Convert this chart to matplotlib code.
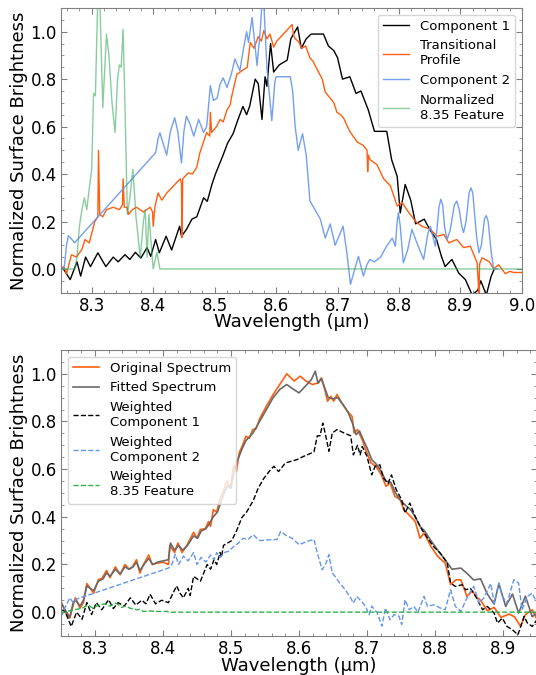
import matplotlib
matplotlib.use("Agg")
import matplotlib.pyplot as plt

# ---- top panel: components (wavelength um, normalized brightness) ----
comp1 = [(8.250, 0.01), (8.254, 0.0), (8.265, -0.045), (8.276, 0.03), (8.282, -0.03), (8.290, 0.05),
         (8.298, 0.01), (8.310, 0.068), (8.323, 0.01), (8.335, 0.05), (8.343, 0.03), (8.354, 0.06),
         (8.362, 0.04), (8.371, 0.07), (8.380, 0.046), (8.390, 0.09), (8.396, 0.053), (8.404, 0.124),
         (8.410, 0.068), (8.421, 0.138), (8.430, 0.08), (8.443, 0.18), (8.446, 0.138), (8.454, 0.166),
         (8.463, 0.21), (8.471, 0.22), (8.482, 0.30), (8.488, 0.285), (8.496, 0.36), (8.502, 0.405),
         (8.513, 0.475), (8.521, 0.53), (8.530, 0.57), (8.538, 0.63), (8.546, 0.685), (8.552, 0.65),
         (8.557, 0.686), (8.566, 0.80), (8.571, 0.78), (8.577, 0.63), (8.582, 0.81), (8.585, 0.77),
         (8.591, 0.95), (8.596, 0.83), (8.605, 0.86), (8.618, 0.88), (8.624, 0.97), (8.635, 1.02),
         (8.641, 0.93), (8.649, 0.97), (8.657, 0.99), (8.677, 0.99), (8.685, 0.94), (8.694, 0.92),
         (8.700, 0.89), (8.708, 0.80), (8.720, 0.81), (8.730, 0.74), (8.738, 0.75), (8.750, 0.67),
         (8.760, 0.58), (8.780, 0.58), (8.788, 0.46), (8.797, 0.39), (8.802, 0.236), (8.810, 0.356),
         (8.819, 0.29), (8.827, 0.19), (8.841, 0.21), (8.850, 0.166), (8.861, 0.124), (8.869, 0.053),
         (8.875, 0.01), (8.886, 0.04), (8.897, -0.017), (8.908, -0.045), (8.919, -0.11), (8.928, -0.09),
         (8.933, -0.05), (8.942, -0.11), (8.950, -0.03), (8.955, 0.0)]

transitional = [(8.250, 0.0), (8.255, 0.01), (8.259, -0.02), (8.267, 0.06), (8.275, 0.05), (8.284, 0.082),
                (8.289, 0.124), (8.296, 0.11), (8.305, 0.20), (8.310, 0.22), (8.311, 0.50), (8.313, 0.23),
                (8.318, 0.22), (8.324, 0.25), (8.335, 0.26), (8.345, 0.25), (8.350, 0.27), (8.351, 0.38),
                (8.353, 0.26), (8.357, 0.26), (8.360, 0.23), (8.366, 0.25), (8.373, 0.26), (8.384, 0.24),
                (8.395, 0.26), (8.399, 0.24), (8.400, 0.18), (8.403, 0.265), (8.408, 0.32), (8.414, 0.29),
                (8.422, 0.32), (8.433, 0.35), (8.444, 0.38), (8.446, 0.36), (8.447, 0.132), (8.448, 0.38),
                (8.457, 0.405), (8.464, 0.40), (8.471, 0.43), (8.476, 0.49), (8.487, 0.575), (8.492, 0.56),
                (8.493, 0.66), (8.495, 0.575), (8.503, 0.60), (8.509, 0.63), (8.514, 0.62), (8.520, 0.67),
                (8.525, 0.69), (8.528, 0.73), (8.536, 0.82), (8.547, 0.84), (8.553, 0.85), (8.558, 0.955),
                (8.564, 0.93), (8.571, 0.98), (8.576, 0.96), (8.580, 1.005), (8.585, 0.97), (8.590, 0.99),
                (8.596, 0.935), (8.601, 0.96), (8.626, 1.03), (8.628, 0.99), (8.631, 0.97), (8.636, 0.96),
                (8.642, 0.93), (8.648, 0.94), (8.655, 0.89), (8.660, 0.875), (8.669, 0.83), (8.675, 0.80),
                (8.680, 0.745), (8.688, 0.72), (8.694, 0.70), (8.699, 0.66), (8.705, 0.65), (8.710, 0.635),
                (8.716, 0.60), (8.721, 0.575), (8.732, 0.535), (8.742, 0.52), (8.748, 0.50), (8.749, 0.41),
                (8.750, 0.48), (8.753, 0.46), (8.764, 0.44), (8.775, 0.38), (8.786, 0.35), (8.797, 0.265),
                (8.805, 0.28), (8.816, 0.237), (8.827, 0.20), (8.837, 0.18), (8.851, 0.167), (8.862, 0.138),
                (8.873, 0.145), (8.881, 0.11), (8.894, 0.124), (8.905, 0.09), (8.916, 0.096), (8.927, 0.026),
                (8.929, -0.06), (8.930, -0.12), (8.931, 0.02), (8.935, 0.047), (8.940, 0.04), (8.947, 0.03),
                (8.954, 0.0), (8.962, 0.018), (8.967, 0.0), (8.973, -0.02), (8.980, -0.01), (8.987, -0.015),
                (9.000, -0.015)]

comp2 = [(8.250, 0.0), (8.255, 0.0), (8.259, 0.10), (8.262, 0.14), (8.266, 0.13), (8.272, 0.11),
         (8.404, 0.49), (8.408, 0.55), (8.411, 0.574), (8.416, 0.53), (8.422, 0.48), (8.428, 0.58),
         (8.435, 0.637), (8.440, 0.58), (8.446, 0.447), (8.450, 0.58), (8.454, 0.644), (8.460, 0.61),
         (8.466, 0.56), (8.474, 0.63), (8.482, 0.575), (8.487, 0.60), (8.493, 0.772), (8.498, 0.71),
         (8.504, 0.72), (8.509, 0.78), (8.514, 0.805), (8.520, 0.765), (8.527, 0.82), (8.533, 0.885),
         (8.541, 0.835), (8.547, 0.93), (8.552, 1.0), (8.555, 0.955), (8.561, 1.06), (8.569, 0.857),
         (8.574, 1.0), (8.577, 1.12), (8.580, 1.12), (8.585, 0.85), (8.593, 0.625), (8.598, 0.79),
         (8.600, 0.81), (8.623, 0.81), (8.627, 0.75), (8.631, 0.60), (8.636, 0.50), (8.643, 0.57),
         (8.649, 0.48), (8.655, 0.287), (8.672, 0.21), (8.680, 0.13), (8.688, 0.19), (8.696, 0.10),
         (8.709, 0.18), (8.715, 0.07), (8.721, -0.065), (8.728, 0.0), (8.734, 0.053), (8.742, -0.03),
         (8.748, 0.02), (8.753, 0.04), (8.760, 0.03), (8.770, 0.05), (8.780, 0.097), (8.789, 0.13),
         (8.794, 0.096), (8.797, 0.20), (8.799, 0.237), (8.802, 0.18), (8.807, 0.026), (8.814, 0.08),
         (8.821, 0.167), (8.829, 0.11), (8.840, 0.04), (8.847, 0.15), (8.851, 0.18), (8.859, 0.096),
         (8.865, 0.26), (8.868, 0.294), (8.871, 0.27), (8.874, 0.18), (8.878, 0.124), (8.883, 0.16),
         (8.890, 0.27), (8.894, 0.286), (8.898, 0.25), (8.902, 0.18), (8.905, 0.153), (8.909, 0.20),
         (8.914, 0.32), (8.917, 0.342), (8.920, 0.32), (8.926, 0.14), (8.930, 0.068), (8.934, 0.10),
         (8.939, 0.21), (8.942, 0.225), (8.945, 0.20), (8.950, 0.07), (8.954, 0.0), (8.960, 0.0)]

feature = [(8.250, 0.0), (8.273, 0.0), (8.276, 0.05), (8.280, 0.18), (8.284, 0.25), (8.288, 0.30),
           (8.292, 0.25), (8.296, 0.34), (8.300, 0.42), (8.303, 0.74), (8.306, 0.73), (8.308, 0.95),
           (8.310, 1.15), (8.313, 1.15), (8.318, 0.68), (8.324, 0.99), (8.328, 0.90), (8.333, 0.70),
           (8.338, 0.575), (8.342, 0.80), (8.345, 0.86), (8.348, 0.85), (8.351, 1.01), (8.354, 0.70),
           (8.358, 0.23), (8.362, 0.30), (8.367, 0.42), (8.372, 0.22), (8.379, 0.047), (8.384, 0.20),
           (8.387, 0.25), (8.390, 0.05), (8.393, 0.23), (8.400, 0.0), (8.406, 0.07), (8.411, 0.0),
           (9.000, 0.0)]

# ---- bottom panel: fit ----
original = [(8.250, 0.045), (8.258, -0.01), (8.263, -0.025), (8.268, 0.03), (8.271, 0.06), (8.278, 0.017),
            (8.283, 0.04), (8.288, 0.12), (8.293, 0.10), (8.298, 0.08), (8.305, 0.137), (8.310, 0.14),
            (8.317, 0.175), (8.322, 0.145), (8.330, 0.19), (8.337, 0.157), (8.344, 0.20), (8.350, 0.18),
            (8.355, 0.19), (8.361, 0.22), (8.366, 0.164), (8.371, 0.198), (8.379, 0.24), (8.384, 0.20),
            (8.391, 0.205), (8.400, 0.21), (8.408, 0.20), (8.410, 0.28), (8.417, 0.25), (8.422, 0.29),
            (8.428, 0.25), (8.435, 0.28), (8.445, 0.335), (8.450, 0.31), (8.455, 0.347), (8.462, 0.35),
            (8.467, 0.38), (8.470, 0.36), (8.474, 0.43), (8.479, 0.42), (8.484, 0.478), (8.489, 0.51),
            (8.494, 0.55), (8.499, 0.52), (8.504, 0.615), (8.508, 0.59), (8.512, 0.668), (8.517, 0.70),
            (8.522, 0.738), (8.527, 0.73), (8.532, 0.766), (8.537, 0.77), (8.542, 0.81), (8.552, 0.864),
            (8.562, 0.913), (8.570, 0.948), (8.582, 1.0), (8.593, 0.97), (8.602, 0.99), (8.610, 0.97),
            (8.620, 0.955), (8.628, 0.962), (8.633, 0.983), (8.638, 0.934), (8.642, 0.885), (8.647, 0.906),
            (8.651, 0.885), (8.656, 0.913), (8.663, 0.878), (8.671, 0.843), (8.678, 0.822), (8.681, 0.752),
            (8.686, 0.766), (8.693, 0.724), (8.698, 0.682), (8.706, 0.626), (8.713, 0.612), (8.721, 0.577),
            (8.728, 0.528), (8.734, 0.542), (8.741, 0.486), (8.749, 0.472), (8.754, 0.43), (8.764, 0.402),
            (8.771, 0.38), (8.778, 0.31), (8.784, 0.332), (8.794, 0.276), (8.804, 0.234), (8.815, 0.206),
            (8.823, 0.116), (8.831, 0.136), (8.838, 0.136), (8.847, 0.066), (8.855, 0.09), (8.860, 0.066),
            (8.867, 0.05), (8.877, 0.006), (8.887, 0.02), (8.897, -0.022), (8.909, -0.008), (8.917, -0.02),
            (8.926, -0.06), (8.933, -0.01), (8.943, 0.01), (8.950, -0.03)]

fitted = [(8.250, 0.04), (8.258, 0.0), (8.263, -0.02), (8.268, 0.04), (8.272, 0.05), (8.278, 0.025),
          (8.283, 0.05), (8.288, 0.11), (8.293, 0.10), (8.298, 0.09), (8.305, 0.13), (8.312, 0.14),
          (8.317, 0.165), (8.322, 0.15), (8.330, 0.18), (8.337, 0.16), (8.344, 0.19), (8.350, 0.18),
          (8.356, 0.19), (8.361, 0.21), (8.366, 0.175), (8.372, 0.20), (8.379, 0.225), (8.385, 0.20),
          (8.392, 0.21), (8.400, 0.215), (8.408, 0.22), (8.411, 0.29), (8.417, 0.26), (8.423, 0.28),
          (8.429, 0.26), (8.436, 0.28), (8.445, 0.32), (8.451, 0.31), (8.456, 0.34), (8.463, 0.35),
          (8.468, 0.37), (8.474, 0.40), (8.480, 0.42), (8.485, 0.46), (8.490, 0.50), (8.495, 0.53),
          (8.500, 0.52), (8.505, 0.60), (8.510, 0.64), (8.517, 0.69), (8.522, 0.72), (8.532, 0.75),
          (8.542, 0.80), (8.552, 0.85), (8.562, 0.90), (8.572, 0.935), (8.582, 0.955), (8.592, 0.935),
          (8.600, 0.92), (8.610, 0.95), (8.618, 0.975), (8.624, 1.011), (8.628, 0.96), (8.633, 0.98),
          (8.638, 0.94), (8.643, 0.90), (8.650, 0.895), (8.657, 0.90), (8.665, 0.87), (8.672, 0.84),
          (8.679, 0.79), (8.684, 0.745), (8.689, 0.76), (8.695, 0.72), (8.700, 0.69), (8.707, 0.64),
          (8.714, 0.62), (8.721, 0.59), (8.728, 0.55), (8.735, 0.545), (8.742, 0.50), (8.749, 0.47),
          (8.756, 0.45), (8.764, 0.43), (8.771, 0.40), (8.778, 0.36), (8.785, 0.34), (8.794, 0.30),
          (8.804, 0.26), (8.815, 0.22), (8.825, 0.18), (8.838, 0.185), (8.847, 0.163), (8.857, 0.135),
          (8.867, 0.14), (8.877, 0.076), (8.887, 0.034), (8.894, 0.12), (8.904, 0.024), (8.914, 0.076),
          (8.923, -0.004), (8.933, 0.067), (8.943, -0.019), (8.950, -0.005)]

w_comp1 = [(8.250, 0.01), (8.256, 0.003), (8.265, -0.06), (8.273, 0.0), (8.281, -0.03), (8.288, 0.04),
           (8.295, -0.01), (8.302, 0.04), (8.310, 0.01), (8.320, 0.052), (8.327, 0.015), (8.334, 0.04),
           (8.343, 0.025), (8.352, 0.06), (8.360, 0.03), (8.369, 0.05), (8.375, 0.035), (8.381, 0.075),
           (8.389, 0.035), (8.398, 0.05), (8.408, 0.04), (8.420, 0.11), (8.425, 0.08), (8.430, 0.06),
           (8.437, 0.10), (8.440, 0.07), (8.445, 0.15), (8.455, 0.13), (8.465, 0.20), (8.470, 0.18),
           (8.475, 0.22), (8.479, 0.20), (8.484, 0.25), (8.486, 0.23), (8.489, 0.28), (8.501, 0.30),
           (8.508, 0.34), (8.516, 0.397), (8.523, 0.42), (8.533, 0.47), (8.540, 0.52), (8.548, 0.56),
           (8.556, 0.59), (8.563, 0.612), (8.570, 0.59), (8.580, 0.626), (8.597, 0.64), (8.607, 0.654),
           (8.622, 0.672), (8.627, 0.74), (8.631, 0.74), (8.635, 0.793), (8.639, 0.745), (8.644, 0.675),
           (8.649, 0.752), (8.656, 0.766), (8.666, 0.752), (8.676, 0.74), (8.680, 0.66), (8.686, 0.70),
           (8.690, 0.66), (8.693, 0.695), (8.700, 0.654), (8.707, 0.576), (8.712, 0.612), (8.719, 0.618),
           (8.724, 0.563), (8.731, 0.54), (8.736, 0.576), (8.743, 0.514), (8.751, 0.472), (8.756, 0.416),
           (8.763, 0.458), (8.771, 0.40), (8.781, 0.345), (8.791, 0.303), (8.798, 0.275), (8.808, 0.247),
           (8.818, 0.206), (8.823, 0.122), (8.830, 0.108), (8.840, 0.115), (8.845, 0.094), (8.852, 0.10),
           (8.860, 0.066), (8.870, 0.01), (8.877, 0.024), (8.887, -0.004), (8.892, -0.046), (8.899, -0.025),
           (8.906, -0.06), (8.914, -0.074), (8.922, -0.095), (8.931, -0.018), (8.936, -0.046),
           (8.943, -0.06), (8.950, -0.032)]

w_comp2 = [(8.250, -0.02), (8.256, 0.02), (8.263, 0.06), (8.268, 0.04), (8.273, 0.055), (8.408, 0.185),
           (8.413, 0.20), (8.418, 0.243), (8.423, 0.20), (8.430, 0.235), (8.437, 0.215), (8.445, 0.25),
           (8.450, 0.20), (8.456, 0.23), (8.463, 0.21), (8.470, 0.24), (8.475, 0.22), (8.479, 0.25),
           (8.484, 0.23), (8.490, 0.25), (8.496, 0.255), (8.504, 0.275), (8.511, 0.29), (8.518, 0.31),
           (8.525, 0.305), (8.533, 0.325), (8.538, 0.31), (8.543, 0.30), (8.553, 0.303), (8.568, 0.305),
           (8.573, 0.338), (8.582, 0.32), (8.590, 0.31), (8.600, 0.283), (8.612, 0.297), (8.622, 0.305),
           (8.627, 0.248), (8.634, 0.178), (8.639, 0.20), (8.644, 0.241), (8.649, 0.164), (8.653, 0.15),
           (8.660, 0.122), (8.668, 0.094), (8.676, 0.06), (8.680, 0.038), (8.685, 0.066), (8.692, 0.045),
           (8.698, 0.024), (8.703, -0.011), (8.707, 0.025), (8.715, -0.003), (8.722, -0.059), (8.727, 0.017),
           (8.734, -0.032), (8.740, -0.01), (8.747, -0.017), (8.751, -0.052), (8.756, 0.052), (8.762, 0.01),
           (8.769, 0.024), (8.775, 0.0), (8.784, 0.066), (8.789, 0.024), (8.798, 0.031), (8.808, 0.017),
           (8.815, 0.01), (8.823, 0.094), (8.830, 0.024), (8.838, 0.003), (8.848, 0.066), (8.857, 0.108),
           (8.865, 0.038), (8.872, 0.06), (8.882, 0.12), (8.887, 0.038), (8.894, 0.122), (8.899, 0.066),
           (8.906, 0.038), (8.916, 0.136), (8.923, 0.122), (8.928, 0.01), (8.936, 0.066), (8.943, 0.08),
           (8.950, 0.038)]

w_feature = [(8.250, -0.005), (8.268, 0.01), (8.280, 0.015), (8.290, 0.03), (8.297, 0.016), (8.305, 0.03),
             (8.315, 0.035), (8.322, 0.025), (8.330, 0.038), (8.335, 0.03), (8.339, 0.02), (8.345, 0.025),
             (8.352, 0.016), (8.362, 0.01), (8.366, 0.012), (8.371, 0.003), (8.380, 0.005), (8.391, 0.003),
             (8.406, 0.003), (8.410, 0.0), (8.950, 0.0)]

ORANGE = '#ff5e0e'
BLUE = '#6495ed'


def xy(pairs):
    return [p[0] for p in pairs], [p[1] for p in pairs]


def style_axes(ax, xmax):
    ax.set_xlim(8.25, xmax)
    ax.set_ylim(-0.1, 1.1)
    ax.minorticks_on()
    ax.tick_params(which='both', direction='in', top=True, right=True, colors='gray',
                   labelcolor='black', labelsize=12)
    ax.tick_params(which='major', length=4, pad=3)
    ax.tick_params(which='minor', length=2)
    for s in ax.spines.values():
        s.set_color('gray')
    ax.set_xlabel('Wavelength (µm)', fontsize=13, labelpad=-1)
    ax.set_ylabel('Normalized Surface Brightness', fontsize=13, labelpad=2)


fig = plt.figure(figsize=(5.36, 6.75), dpi=100)

ax1 = fig.add_axes([0.1138, 0.5664, 0.860, 0.4218])
ax1.plot(*xy(comp1), color='black', lw=1.0, label='Component 1')
ax1.plot(*xy(transitional), color=ORANGE, lw=1.0, label='Transitional\nProfile')
ax1.plot(*xy(comp2), color=BLUE, lw=1.0, alpha=0.9, label='Component 2')
ax1.plot(*xy(feature), color='#3aaa5c', lw=1.0, alpha=0.6, label='Normalized\n8.35 Feature')
style_axes(ax1, 9.0)
ax1.legend(loc='upper right', fontsize=9.5)

ax2 = fig.add_axes([0.1138, 0.0578, 0.888, 0.4237])
ax2.plot(*xy(original), color=ORANGE, lw=1.2, label='Original Spectrum')
ax2.plot(*xy(fitted), color='dimgray', lw=1.2, label='Fitted Spectrum')
ax2.plot(*xy(w_comp1), color='black', lw=1.0, ls='--', label='Weighted\nComponent 1')
ax2.plot(*xy(w_comp2), color=BLUE, lw=1.0, ls='--', label='Weighted\nComponent 2')
ax2.plot(*xy(w_feature), color='#2db34a', lw=1.0, ls='--', label='Weighted\n8.35 Feature')
style_axes(ax2, 8.95)
ax2.legend(loc='upper left', fontsize=9.5)

fig.savefig('out.png', dpi=100)
